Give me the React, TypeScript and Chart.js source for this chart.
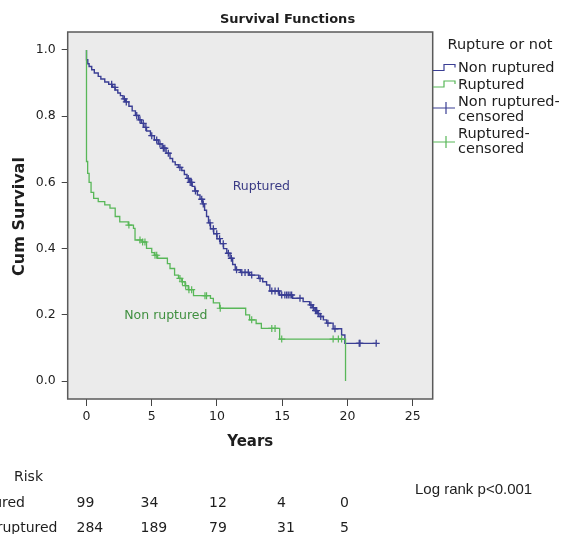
import React, { useEffect, useRef } from "react";
import { Chart, registerables } from "chart.js";

Chart.register(...registerables);

// ---------- data ----------
const xTicks = [0, 5, 10, 15, 20, 25];
const yTicks = [0, 0.2, 0.4, 0.6, 0.8, 1.0];

// Non ruptured (blue) Kaplan-Meier steps
const nonRupturedTimes = [
  0, 0, 0.1, 0.2, 0.4, 0.6, 0.9, 1.1, 1.4, 1.7, 2.0, 2.2, 2.4, 2.6, 2.8, 3.0, 3.25, 3.5, 3.75, 4.0,
  4.2, 4.4, 4.6, 4.9, 5.2, 5.5, 5.8, 6.1, 6.4, 6.6, 6.8, 7.05, 7.3, 7.5, 7.7, 7.9, 8.1, 8.3, 8.5,
  8.7, 8.9, 9.05, 9.2, 9.35, 9.5, 9.75, 10.0, 10.25, 10.5, 10.75, 11.0, 11.2, 11.4, 11.8, 12.5,
  13.2, 13.5, 13.8, 14.05, 14.8, 15.8, 16.6, 17.1, 17.3, 17.5, 17.7, 17.9, 18.15, 18.4, 18.9,
  19.55, 19.8, 22.2,
];
const nonRupturedSurvival = [
  1.0, 0.97, 0.958, 0.95, 0.94, 0.93, 0.92, 0.912, 0.903, 0.896, 0.887, 0.879, 0.87, 0.862, 0.852,
  0.843, 0.83, 0.816, 0.802, 0.789, 0.778, 0.766, 0.755, 0.741, 0.728, 0.716, 0.703, 0.688, 0.672,
  0.662, 0.653, 0.645, 0.636, 0.624, 0.612, 0.6, 0.588, 0.574, 0.562, 0.549, 0.535, 0.516, 0.497,
  0.478, 0.46, 0.445, 0.43, 0.415, 0.4, 0.386, 0.371, 0.352, 0.336, 0.328, 0.32, 0.31, 0.3, 0.29,
  0.272, 0.26, 0.25, 0.24, 0.23, 0.222, 0.213, 0.204, 0.195, 0.185, 0.175, 0.158, 0.139, 0.114,
  0.114,
];

// Ruptured (green) Kaplan-Meier steps
const rupturedTimes = [
  0, 0, 0.09, 0.2, 0.35, 0.55, 0.9, 1.4, 1.8, 2.2, 2.55, 3.2, 3.6, 3.72, 4.25, 4.6, 5.0, 5.2, 5.45,
  6.2, 6.4, 6.75, 7.05, 7.3, 7.55, 7.8, 8.2, 9.5, 9.72, 10.2, 12.2, 12.5, 13.0, 13.4, 14.8, 19.85,
];
const rupturedSurvival = [
  1.0, 0.663, 0.627, 0.6, 0.57, 0.552, 0.542, 0.532, 0.522, 0.497, 0.481, 0.471, 0.461, 0.426,
  0.42, 0.401, 0.388, 0.38, 0.371, 0.355, 0.34, 0.32, 0.31, 0.3, 0.288, 0.276, 0.258, 0.25, 0.236,
  0.22, 0.2, 0.185, 0.174, 0.159, 0.127, 0.0,
];

// Censored marks
const nonRupturedCensorTimes = [
  1.93, 2.18, 2.9, 3.05, 3.85, 4.1, 4.35, 4.55, 5.0, 5.38, 5.63, 5.89, 6.0, 6.27, 7.16, 7.8, 7.95,
  8.06, 8.35, 8.83, 8.95, 9.46, 9.72, 9.98, 10.2, 10.48, 10.87, 11.1, 11.5, 11.9, 12.15, 12.4,
  12.66, 13.3, 14.2, 14.45, 14.7, 14.96, 15.2, 15.34, 15.46, 15.6, 15.72, 16.36, 17.2, 17.38,
  17.55, 17.64, 17.76, 17.95, 18.5, 19.04, 20.9, 20.96, 22.2,
];
const nonRupturedCensorSurvival = [
  0.896, 0.887, 0.852, 0.843, 0.802, 0.789, 0.778, 0.766, 0.741, 0.728, 0.716, 0.703, 0.703, 0.688,
  0.645, 0.612, 0.6, 0.6, 0.574, 0.549, 0.535, 0.478, 0.46, 0.445, 0.43, 0.415, 0.386, 0.371,
  0.336, 0.328, 0.328, 0.328, 0.32, 0.31, 0.272, 0.272, 0.272, 0.26, 0.26, 0.26, 0.26, 0.26, 0.26,
  0.25, 0.23, 0.222, 0.213, 0.213, 0.204, 0.195, 0.175, 0.158, 0.114, 0.114, 0.114,
];
const rupturedCensorTimes = [
  3.25, 4.1, 4.3, 4.48, 5.25, 5.38, 7.16, 7.35, 7.6, 7.85, 8.06, 9.08, 9.2, 10.25, 12.66, 14.2,
  14.45, 14.96, 18.9, 19.3, 19.55,
];
const rupturedCensorSurvival = [
  0.471, 0.426, 0.42, 0.42, 0.38, 0.38, 0.31, 0.3, 0.288, 0.276, 0.276, 0.258, 0.258, 0.22, 0.185,
  0.159, 0.159, 0.127, 0.127, 0.127, 0.127,
];

// Number at risk table
const atRiskYears = [0, 5, 10, 15, 20];
const atRiskRuptured = [99, 34, 12, 4, 0];
const atRiskNonRuptured = [284, 189, 79, 31, 5];

const legendTitle = "Rupture or not";
const groupNames = ["Non ruptured", "Ruptured"];

// ---------- style ----------
const BLUE = "#3a3e94";
const GREEN = "#58b758";
const FONT = "'DejaVu Sans', sans-serif";
const TEXT = "#1e1e1e";

const pts = (ts: number[], ss: number[]) => ts.map((t, i) => ({ x: t, y: ss[i] }));

export default function App() {
  const ref = useRef<HTMLCanvasElement>(null);

  useEffect(() => {
    const canvas = ref.current;
    if (!canvas) return;

    const overlay = {
      id: "overlay",
      beforeDraw(chart: any) {
        const { ctx, chartArea: a } = chart;
        ctx.save();
        ctx.fillStyle = "#ffffff";
        ctx.fillRect(0, 0, chart.width, chart.height);
        ctx.fillStyle = "#ebebeb";
        ctx.fillRect(a.left, a.top, a.right - a.left, a.bottom - a.top);
        ctx.restore();
      },
      afterDatasetsDraw(chart: any) {
        const { ctx, chartArea: a } = chart;
        ctx.save();
        ctx.strokeStyle = "#5a5a5a";
        ctx.lineWidth = 1.5;
        ctx.strokeRect(a.left, a.top, a.right - a.left, a.bottom - a.top);
        ctx.restore();
      },
      afterDraw(chart: any) {
        const { ctx, chartArea: a } = chart;
        const xs = chart.scales.x;
        const ys = chart.scales.y;
        ctx.save();
        ctx.fillStyle = TEXT;
        ctx.textBaseline = "middle";

        // title
        ctx.font = `bold 13px ${FONT}`;
        ctx.textAlign = "center";
        ctx.fillText("Survival Functions", 287.5, 20);

        // axis titles
        ctx.font = `bold 15px ${FONT}`;
        ctx.fillText("Years", (a.left + a.right) / 2, 442);
        ctx.save();
        ctx.translate(20, (a.top + a.bottom) / 2 + 1);
        ctx.rotate(-Math.PI / 2);
        ctx.font = `bold 16px ${FONT}`;
        ctx.fillText("Cum Survival", 0, 0);
        ctx.restore();

        // curve annotations
        ctx.font = `12.5px ${FONT}`;
        ctx.fillStyle = "#3a3b85";
        ctx.fillText("Ruptured", xs.getPixelForValue(13.4), ys.getPixelForValue(0.586));
        ctx.fillStyle = "#3f8f3f";
        ctx.fillText("Non ruptured", xs.getPixelForValue(6.08), ys.getPixelForValue(0.196));

        // legend
        ctx.fillStyle = TEXT;
        ctx.textAlign = "left";
        ctx.font = `14.5px ${FONT}`;
        ctx.fillText(legendTitle, 447.5, 45);
        const lx = 458;
        ctx.fillText(groupNames[0], lx, 68);
        ctx.fillText(groupNames[1], lx, 85);
        ctx.fillText(groupNames[0] + "-", lx, 102.5);
        ctx.fillText("censored", lx, 117);
        ctx.fillText(groupNames[1] + "-", lx, 134.5);
        ctx.fillText("censored", lx, 149);

        const step = (y: number, color: string) => {
          ctx.beginPath();
          ctx.strokeStyle = color;
          ctx.lineWidth = 1.2;
          ctx.moveTo(433, y);
          ctx.lineTo(444, y);
          ctx.lineTo(444, y - 6);
          ctx.lineTo(455, y - 6);
          ctx.lineTo(455, y - 3);
          ctx.stroke();
        };
        step(70.5, BLUE);
        step(87, GREEN);
        const cross = (y: number, color: string) => {
          ctx.beginPath();
          ctx.strokeStyle = color;
          ctx.lineWidth = 1.2;
          ctx.moveTo(433, y);
          ctx.lineTo(455, y);
          ctx.moveTo(446, y - 6);
          ctx.lineTo(446, y + 6);
          ctx.stroke();
        };
        cross(108, BLUE);
        cross(142, GREEN);

        // number at risk table
        ctx.fillStyle = TEXT;
        ctx.font = `14px ${FONT}`;
        ctx.textAlign = "left";
        ctx.fillText("Risk", 14, 477);
        ctx.textAlign = "right";
        ctx.fillText(groupNames[1], 25, 503);
        ctx.fillText(groupNames[0], 57.5, 528);
        ctx.textAlign = "left";
        const cols = [76.5, 140.5, 209, 277, 340];
        atRiskYears.forEach((_, i) => {
          ctx.fillText(String(atRiskRuptured[i]), cols[i], 503);
          ctx.fillText(String(atRiskNonRuptured[i]), cols[i], 528);
        });

        ctx.font = `15px 'Liberation Sans', Arial, sans-serif`;
        ctx.fillText("Log rank p<0.001", 415, 490);
        ctx.restore();
      },
    };

    const chart = new Chart(canvas, {
      type: "scatter",
      data: {
        datasets: [
          {
            label: "Non ruptured-censored",
            data: pts(nonRupturedCensorTimes, nonRupturedCensorSurvival),
            showLine: false,
            pointStyle: "cross",
            pointRadius: 3.5,
            borderColor: BLUE,
            backgroundColor: BLUE,
            borderWidth: 1.3,
          } as any,
          {
            label: "Ruptured-censored",
            data: pts(rupturedCensorTimes, rupturedCensorSurvival),
            showLine: false,
            pointStyle: "cross",
            pointRadius: 3.5,
            borderColor: GREEN,
            backgroundColor: GREEN,
            borderWidth: 1.2,
          } as any,
          {
            label: "Ruptured",
            data: pts(rupturedTimes, rupturedSurvival),
            showLine: true,
            stepped: true,
            borderColor: GREEN,
            borderWidth: 1.3,
            pointRadius: 0,
            fill: false,
          } as any,
          {
            label: "Non ruptured",
            data: pts(nonRupturedTimes, nonRupturedSurvival),
            showLine: true,
            stepped: true,
            borderColor: BLUE,
            borderWidth: 1.4,
            pointRadius: 0,
            fill: false,
          } as any,
        ],
      },
      options: {
        responsive: false,
        animation: false,
        devicePixelRatio: 1,
        layout: { padding: { left: 0, top: 32, right: 130.3, bottom: 0 } },
        plugins: {
          legend: { display: false },
          title: { display: false },
          tooltip: { enabled: false },
        },
        events: [],
        scales: {
          x: {
            type: "linear",
            min: -1.44,
            max: 26.53,
            afterBuildTicks: (s: any) => {
              s.ticks = xTicks.map((v) => ({ value: v }));
            },
            afterFit: (s: any) => {
              s.height = 135;
            },
            grid: {
              display: true,
              drawOnChartArea: false,
              drawTicks: true,
              tickLength: 7,
              color: "#444",
              lineWidth: 1,
            },
            border: { display: false },
            ticks: {
              padding: 3,
              color: TEXT,
              font: { family: FONT, size: 12.5 },
              maxRotation: 0,
              autoSkip: false,
              callback: (v: any) => String(v),
            },
          },
          y: {
            type: "linear",
            min: -0.054,
            max: 1.054,
            afterBuildTicks: (s: any) => {
              s.ticks = yTicks.map((v) => ({ value: v }));
            },
            afterFit: (s: any) => {
              s.width = 67.7;
            },
            grid: {
              display: true,
              drawOnChartArea: false,
              drawTicks: true,
              tickLength: 6,
              color: "#444",
              lineWidth: 1,
            },
            border: { display: false },
            ticks: {
              padding: 6,
              color: TEXT,
              font: { family: FONT, size: 12.5 },
              autoSkip: false,
              callback: (v: any) => Number(v).toFixed(1),
            },
          },
        },
      } as any,
      plugins: [overlay],
    });

    return () => chart.destroy();
  }, []);

  return (
    <div style={{ position: "absolute", left: 0, top: 0, width: 563, height: 534 }}>
      <canvas ref={ref} width={563} height={534} style={{ width: 563, height: 534, display: "block" }} />
    </div>
  );
}
